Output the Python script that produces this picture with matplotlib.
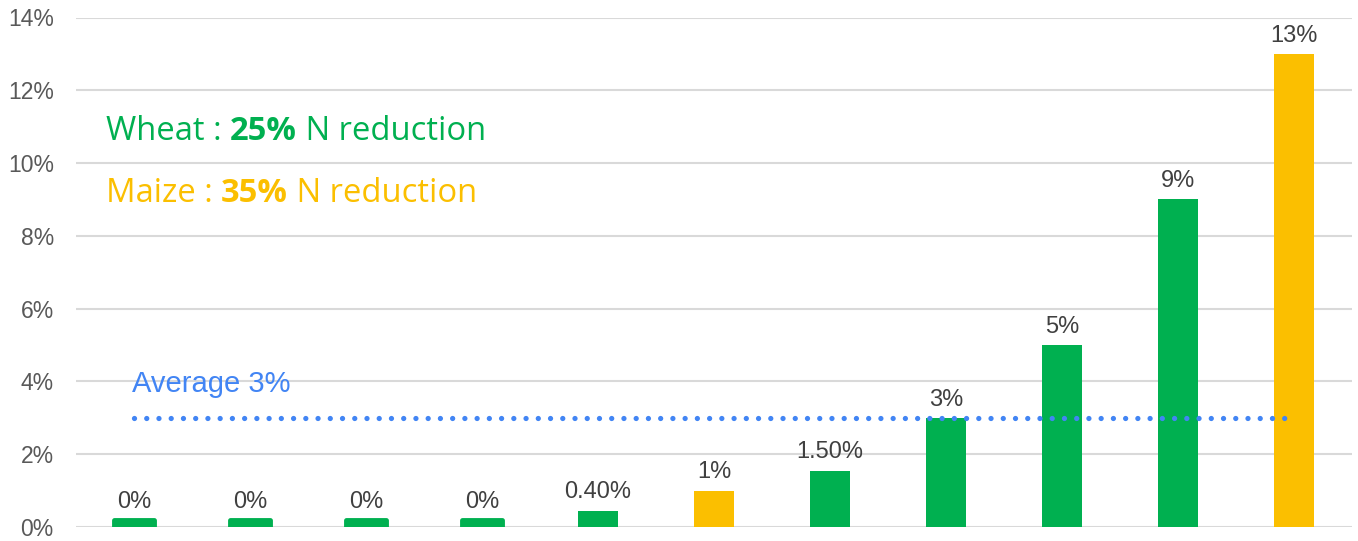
import matplotlib
matplotlib.use("Agg")
import matplotlib.pyplot as plt

# data (values in %)
values = [0.18, 0.18, 0.18, 0.18, 0.45, 1.0, 1.55, 3, 5, 9, 13]
labels = ["0%", "0%", "0%", "0%", "0.40%", "1%", "1.50%", "3%", "5%", "9%", "13%"]
crops = ["wheat", "wheat", "wheat", "wheat", "wheat", "maize", "wheat",
         "wheat", "wheat", "wheat", "maize"]
average = 3
yticks = [0, 2, 4, 6, 8, 10, 12, 14]

green = "#00B050"
yellow = "#FBBF00"
blue = "#4285F4"

plt.rcParams['font.family'] = ['Liberation Sans', 'DejaVu Sans']
plt.rcParams['lines.scale_dashes'] = False

fig = plt.figure(figsize=(13.58, 5.41), dpi=100)
ax = fig.add_axes([76 / 1358, 14 / 541, (1352 - 76) / 1358, (527 - 17.5) / 541])

x = list(range(len(values)))
cols = [green if c == "wheat" else yellow for c in crops]

for xi, v, c, lab in zip(x, values, cols, labels):
    if lab == "0%":
        # tiny rounded stub for zero values
        ax.bar(xi, v, width=0.34, color=c, edgecolor=c, linewidth=3.5,
               joinstyle="round", zorder=3)
    else:
        ax.bar(xi, v, width=0.34, color=c, zorder=3)
    ax.text(xi, v + 0.2, lab, ha="center", va="bottom", fontsize=17,
            color="#404040", zorder=4)

# average line (round dots)
ax.plot([x[0], x[-1]], [average, average], color=blue, linewidth=3.8,
        linestyle=(0, (0.01, 8.8)), dash_capstyle="round", zorder=5)
ax.text(-0.02, 3.7, "Average 3%", fontsize=21, color=blue, ha="left",
        va="baseline")

ax.set_xlim(-0.5, 10.5)
ax.set_ylim(0, 14)
ax.set_yticks(yticks)
ax.set_yticklabels([f"{t}%" for t in yticks])
ax.tick_params(axis="y", length=0, pad=16, labelsize=16.5, labelcolor="#595959")
ax.tick_params(axis="x", length=0, labelbottom=False)
ax.grid(axis="y", color="#D9D9D9", linewidth=1.5, zorder=0)
for s in ax.spines.values():
    s.set_visible(False)

# legend-like text with bold percentages
renderer = fig.canvas.get_renderer()


def rich_line(x0, y0, parts, color):
    xp = x0
    for txt, weight in parts:
        t = fig.text(xp, y0, txt, fontsize=23.6, color=color, fontweight=weight,
                     family=["Open Sans", "DejaVu Sans"], va="baseline")
        bb = t.get_window_extent(renderer=renderer)
        xp += bb.width / fig.bbox.width


rich_line(106 / 1358, 1 - 140 / 541,
          [("Wheat : ", "normal"), ("25%", "bold"), (" N reduction", "normal")], green)
rich_line(106 / 1358, 1 - 202 / 541,
          [("Maize : ", "normal"), ("35%", "bold"), (" N reduction", "normal")], yellow)

fig.savefig("out.png", dpi=100)
